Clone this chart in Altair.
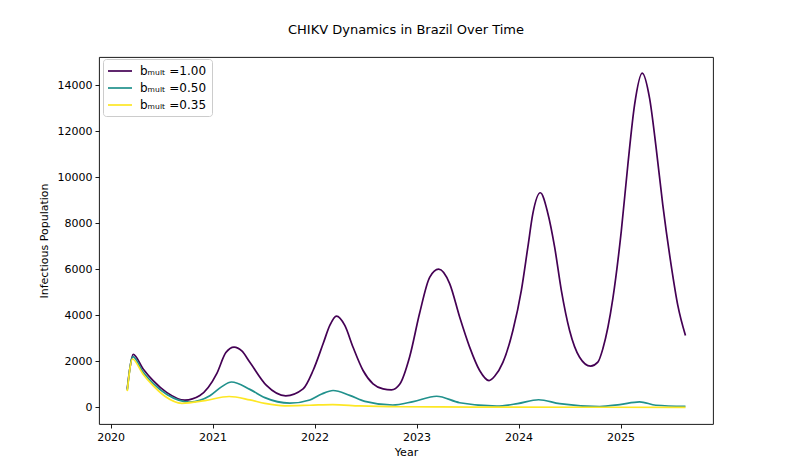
import altair as alt
import pandas as pd

# Series 1: b_mult = 1.00
t_100 = [2020.163, 2020.189, 2020.221, 2020.319, 2020.417, 2020.549, 2020.728, 2020.875,
         2021.039, 2021.130, 2021.211, 2021.286, 2021.365, 2021.528, 2021.717, 2021.887,
         2021.985, 2022.083, 2022.149, 2022.214, 2022.296, 2022.377, 2022.475, 2022.573,
         2022.671, 2022.753, 2022.834, 2022.932, 2023.030, 2023.128, 2023.216, 2023.324,
         2023.422, 2023.520, 2023.618, 2023.710, 2023.765, 2023.846, 2023.944, 2024.027,
         2024.091, 2024.140, 2024.213, 2024.287, 2024.353, 2024.419, 2024.500, 2024.598,
         2024.706, 2024.777, 2024.826, 2024.924, 2025.006, 2025.071, 2025.137, 2025.212,
         2025.284, 2025.349, 2025.414, 2025.496, 2025.561, 2025.636]
v_100 = [800, 1700, 2300, 1670, 1160, 650, 310, 510,
         1450, 2380, 2620, 2450, 1960, 950, 500, 800,
         1600, 2760, 3560, 3965, 3560, 2610, 1600, 1020,
         800, 758, 1000, 2200, 4100, 5650, 6005, 5378,
         3924, 2617, 1600, 1160, 1350, 1950, 3342, 5085,
         6972, 8427, 9325, 8427, 6972, 5085, 3342, 2179,
         1790, 1961, 2545, 4723, 7625, 10532, 13146, 14527,
         13437, 11258, 8788, 6174, 4431, 3124]

# Series 2: b_mult = 0.50
t_050 = [2020.163, 2020.218, 2020.316, 2020.414, 2020.552, 2020.777, 2020.973, 2021.090,
         2021.185, 2021.365, 2021.512, 2021.757, 2021.953, 2022.070, 2022.181, 2022.344,
         2022.493, 2022.766, 2022.967, 2023.196, 2023.422, 2023.785, 2023.989, 2024.196,
         2024.402, 2024.794, 2024.992, 2025.186, 2025.346, 2025.636]
v_050 = [750, 2200, 1550, 1050, 560, 230, 500, 900,
         1100, 780, 420, 180, 320, 580, 730, 520,
         260, 100, 250, 480, 200, 55, 160, 330,
         160, 35, 120, 240, 90, 40]

# Series 3: b_mult = 0.35
t_035 = [2020.163, 2020.214, 2020.316, 2020.414, 2020.532, 2020.699, 2020.924, 2021.162,
         2021.365, 2021.512, 2021.708, 2021.953, 2022.178, 2022.442, 2022.834, 2023.226,
         2023.814, 2024.794, 2025.636]
v_035 = [700, 2100, 1450, 950, 480, 175, 290, 470,
         320, 170, 65, 90, 120, 60, 25, 20,
         8, 3, 1]

labels = ["bₘᵤₗₜ =1.00", "bₘᵤₗₜ =0.50", "bₘᵤₗₜ =0.35"]
colors = ["#440154", "#21918c", "#fde725"]
x_ticks = [2020, 2021, 2022, 2023, 2024, 2025]
y_ticks = [0, 2000, 4000, 6000, 8000, 10000, 12000, 14000]

frames = []
for lab, ts, vs in zip(labels, [t_100, t_050, t_035], [v_100, v_050, v_035]):
    frames.append(pd.DataFrame({"year": ts, "value": vs, "series": lab}))
df = pd.concat(frames, ignore_index=True)

font = "DejaVu Sans"

chart = alt.Chart(df).mark_line(interpolate="monotone", strokeWidth=1.7).encode(
    x=alt.X("year:Q",
            scale=alt.Scale(domain=[2019.886, 2025.906], nice=False, zero=False),
            axis=alt.Axis(title="Year", values=x_ticks, format="d", grid=False,
                          domain=False, tickColor="black", tickSize=4, tickWidth=0.9,
                          labelColor="black", labelFontSize=11, labelFont=font,
                          labelPadding=3, titleFont=font, titleFontSize=11,
                          titleFontWeight="normal", titleColor="black", titlePadding=4)),
    y=alt.Y("value:Q",
            scale=alt.Scale(domain=[-725, 15225], nice=False, zero=False),
            axis=alt.Axis(title="Infectious Population", values=y_ticks, format="d",
                          grid=False, domain=False, tickColor="black", tickSize=4,
                          tickWidth=0.9, labelColor="black", labelFontSize=11,
                          labelFont=font, labelPadding=3, titleFont=font,
                          titleFontSize=11, titleFontWeight="normal",
                          titleColor="black", titlePadding=8)),
    color=alt.Color("series:N",
                    scale=alt.Scale(domain=labels, range=colors),
                    sort=labels,
                    legend=alt.Legend(title=None, orient="none", legendX=4, legendY=2,
                                      symbolType="M-2,0L2,0", symbolStrokeWidth=1.7,
                                      symbolSize=144, labelFont=font, labelFontSize=12,
                                      labelColor="black", fillColor="white",
                                      strokeColor="#cccccc", cornerRadius=3,
                                      padding=5, rowPadding=4, symbolOffset=5,
                                      labelOffset=13)),
).properties(
    width=614,
    height=367,
    title=alt.TitleParams("CHIKV Dynamics in Brazil Over Time", font=font,
                          fontSize=13, fontWeight="normal", color="black",
                          anchor="middle", baseline="bottom", offset=7),
    padding={"left": 91, "top": 49, "right": 60, "bottom": 44},
    autosize="none",
).configure_view(
    stroke="black", strokeWidth=0.9
)

chart.save("out.html", embed_options={"renderer": "svg", "actions": False})
